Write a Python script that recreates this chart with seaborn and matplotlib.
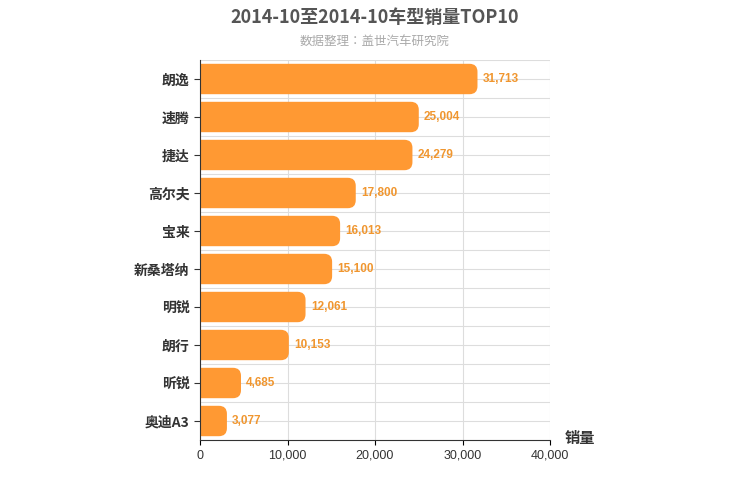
import matplotlib
matplotlib.use("Agg")
import matplotlib.pyplot as plt
from matplotlib import font_manager
from matplotlib.patches import FancyBboxPatch
import seaborn as sns
import pandas as pd

cjk = [f.name for f in font_manager.fontManager.ttflist if "CJK" in f.name]
cjk_name = "Noto Sans CJK SC" if "Noto Sans CJK SC" in cjk else (cjk[0] if cjk else "DejaVu Sans")
plt.rcParams["font.family"] = [cjk_name, "DejaVu Sans"]
plt.rcParams["axes.unicode_minus"] = False

models = ["朗逸", "速腾", "捷达", "高尔夫", "宝来", "新桑塔纳", "明锐", "朗行", "昕锐", "奥迪A3"]
sales = [31713, 25004, 24279, 17800, 16013, 15100, 12061, 10153, 4685, 3077]
x_ticks = [0, 10000, 20000, 30000, 40000]

df = pd.DataFrame({"model": models, "sales": sales})
bar_color = "#FF9933"

fig = plt.figure(figsize=(7.5, 5), dpi=100)
ax = fig.add_axes([200 / 750, 60 / 500, 350 / 750, 380 / 500])
sns.barplot(data=df, x="sales", y="model", color=bar_color, width=0.8, ax=ax, zorder=2)

ax.set_xlim(0, 40000)
ax.set_ylim(len(models) - 0.5, -0.5)

# rounded right ends
x_per_px = 40000 / 350
y_per_px = len(models) / 380
for p in list(ax.patches):
    x0, y0, w, h = p.get_x(), p.get_y(), p.get_width(), p.get_height()
    p.set_visible(False)
    rb = FancyBboxPatch((x0 - 1000, y0), w + 1000, h,
                        boxstyle="round,pad=0,rounding_size=%f" % (8 * x_per_px),
                        mutation_aspect=y_per_px / x_per_px,
                        fc=bar_color, ec="none", zorder=2, clip_on=True)
    ax.add_patch(rb)

for i, v in enumerate(sales):
    ax.text(v + 600, i, f"{v:,}", va="center", ha="left", color="#F0962F",
            fontsize=8.5, fontfamily="Liberation Sans", fontweight="bold")

ax.set_xticks(x_ticks)
ax.set_xticklabels([f"{t:,}" for t in x_ticks], fontsize=9, color="#333333",
                   fontfamily="Liberation Sans")
ax.tick_params(axis="y", labelsize=10, length=4, colors="#333333")
for lbl in ax.get_yticklabels():
    lbl.set_fontweight("bold")
ax.set_xlabel("")
ax.set_ylabel("")
ax.grid(True, color="#DDDDDD", linewidth=0.8, zorder=0)
ax.set_axisbelow(True)
for s in ["top", "right"]:
    ax.spines[s].set_visible(False)
ax.spines["left"].set_color("#333333")
ax.spines["bottom"].set_color("#333333")

# horizontal grid lines between bars
for i in range(len(models)):
    ax.axhline(i - 0.5, color="#DDDDDD", linewidth=0.8, zorder=0)
ax.set_yticks(range(len(models)))

fig.text(0.5, 0.965, "2014-10至2014-10车型销量TOP10", ha="center", va="center",
         fontsize=13, fontweight="bold", color="#555555")
fig.text(0.5, 0.918, "数据整理：盖世汽车研究院", ha="center", va="center",
         fontsize=9, color="#AAAAAA")
fig.text(565 / 750, 1 - 438 / 500, "销量", ha="left", va="center",
         fontsize=11, fontweight="bold", color="#333333")

fig.savefig("out.png", dpi=100)
